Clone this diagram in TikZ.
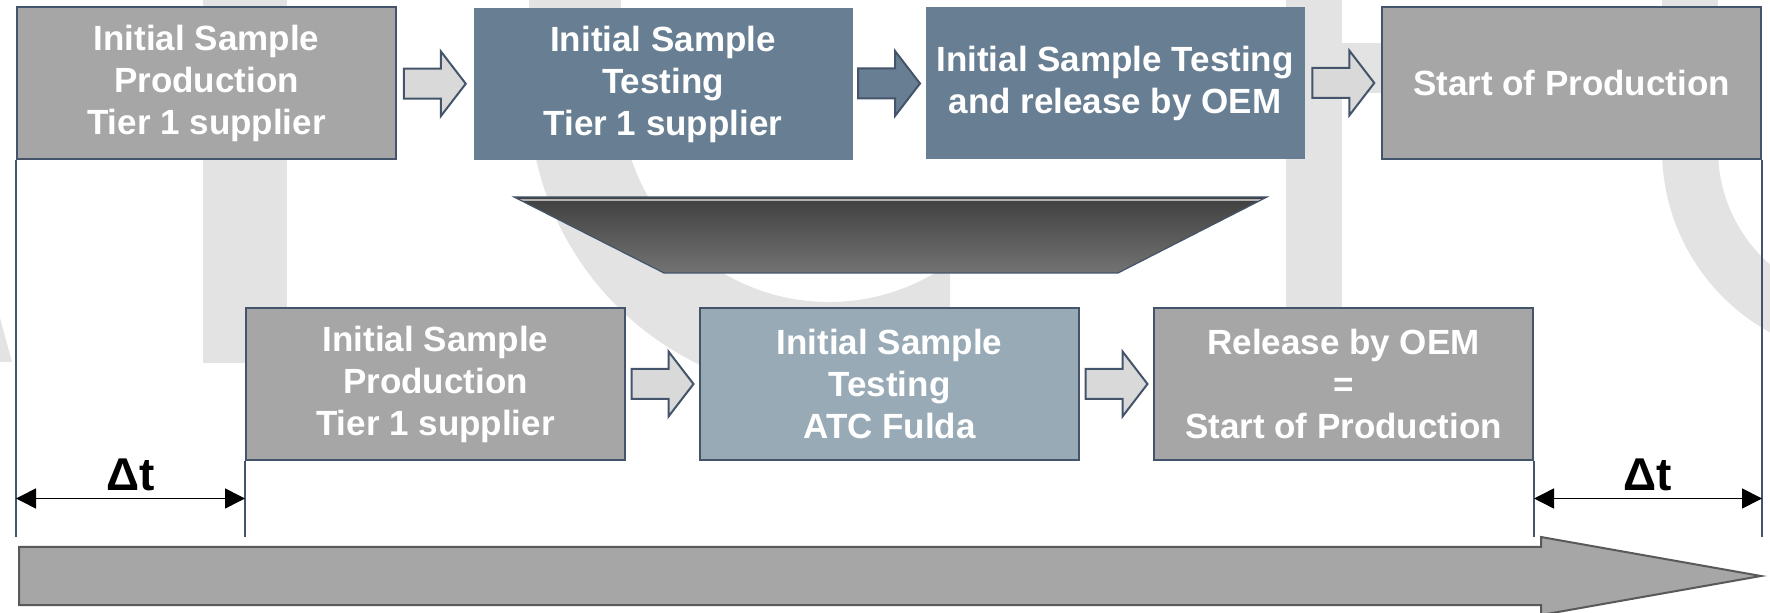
\documentclass[tikz,border=0pt]{standalone}
\usepackage{fontspec}
\setmainfont{Liberation Sans}
\usetikzlibrary{calc,arrows.meta}
\definecolor{boxgrey}{HTML}{A6A6A6}
\definecolor{slate}{HTML}{687F93}
\definecolor{lslate}{HTML}{98AAB6}
\definecolor{edge}{HTML}{44546A}
\definecolor{wm}{HTML}{E3E3E3}
\definecolor{arrowfill}{HTML}{D9D9D9}
\definecolor{bigedge}{HTML}{595959}
\newcommand\blockarrow[3]{%
  \coordinate (m) at ($(#1.east)!0.5!(#2.west)$);
  \filldraw[fill=#3, draw=edge, line width=1pt, line join=miter]
    ($(m)+(-31,-15)$) -- ($(m)+(6,-15)$) -- ($(m)+(6,-32.5)$) -- ($(m)+(31,0)$)
    -- ($(m)+(6,32.5)$) -- ($(m)+(6,15)$) -- ($(m)+(-31,15)$) -- cycle;}
\begin{document}
\begin{tikzpicture}[x=0.5pt,y=-0.5pt,
  box/.style={minimum width=189.5pt, minimum height=76pt, inner sep=0pt, align=center,
    text=white, font=\fontsize{17.5}{21}\selectfont\bfseries, line width=1pt},
  greybox/.style={box, fill=boxgrey, draw=edge},
  slatebox/.style={box, fill=slate},
  vline/.style={draw=edge, line width=0.7pt},
  dtarrow/.style={draw=black, line width=0.8pt, {Triangle[length=10pt,width=10pt]}-{Triangle[length=10pt,width=10pt]}},
  dtlabel/.style={font=\fontsize{23}{26}\selectfont\bfseries, text=black, inner sep=0pt, anchor=south}]
\useasboundingbox (0,0) rectangle (1770,613);
% watermark
\fill[wm] (203,0) rectangle (287,363);
\fill[wm] (1286,0) rectangle (1342,363);
\fill[wm] (1286,43) rectangle (1500,93);
\fill[wm] (0,318) -- (12,362) -- (0,362) -- cycle;
\fill[wm] (529,0) rectangle (621,94.5);
\begin{scope}
  \clip (0,94) rectangle (950,613);
  \fill[wm, even odd rule] (829,94) circle[radius=300] (829,94) circle[radius=208];
\end{scope}
\fill[wm] (1662,0) rectangle (1718,150.5);
\begin{scope}
  \clip (1600,150) rectangle (1770,613);
  \fill[wm, even odd rule] (1870,150) circle[radius=208] (1870,150) circle[radius=152];
\end{scope}
% boxes
\node[greybox] (b1) at (206.5,83.5) {Initial Sample\\Production\\Tier 1 supplier};
\node[slatebox] (b2) at (663,84) {Initial Sample\\Testing\\Tier 1 supplier};
\node[slatebox] (b3) at (1115,83) {Initial Sample Testing\\and release by OEM};
\node[greybox] (b4) at (1571.5,83) {Start of Production};
\node[greybox] (b5) at (435.5,384) {Initial Sample\\Production\\Tier 1 supplier};
\node[box, fill=lslate, draw=edge] (b6) at (889.5,384) {Initial Sample\\Testing\\ATC Fulda};
\node[greybox] (b7) at (1343.5,384) {Release by OEM\\=\\Start of Production};
% block arrows
\blockarrow{b1}{b2}{arrowfill}
\blockarrow{b2}{b3}{slate}
\blockarrow{b3}{b4}{arrowfill}
\blockarrow{b5}{b6}{arrowfill}
\blockarrow{b6}{b7}{arrowfill}
% funnel
\shade[top color=black!75, bottom color=black!55] (514,197) -- (1267,197) -- (1118,273) -- (664,273) -- cycle;
\draw[gray!60, line width=1.2pt] (520,200) -- (1261,200);
\draw[edge, line width=0.6pt, line join=miter] (514,197) -- (1267,197) -- (1118,273) -- (664,273) -- cycle;
% vertical lines
\coordinate (base) at (0,537);
\coordinate (dty) at (0,498.5);
\draw[vline] (b1.south west) -- (b1.south west |- base);
\draw[vline] (b4.south east) -- (b4.south east |- base);
\draw[vline] (b5.south west) -- (b5.south west |- base);
\draw[vline] (b7.south east) -- (b7.south east |- base);
% delta t
\draw[dtarrow] (b1.south west |- dty) -- (b5.south west |- dty) node[midway, dtlabel, yshift=3.5pt] (dt1) {Δt};
\draw[dtarrow] (b7.south east |- dty) -- (b4.south east |- dty) node[midway, dtlabel, yshift=3.5pt] (dt2) {Δt};
% big time arrow
\filldraw[fill=boxgrey, draw=bigedge, line width=1pt] (19,547) -- (1541,547) -- (1541,537) -- (1761,576) -- (1541,615) -- (1541,605) -- (19,605) -- cycle;
\end{tikzpicture}
\end{document}
